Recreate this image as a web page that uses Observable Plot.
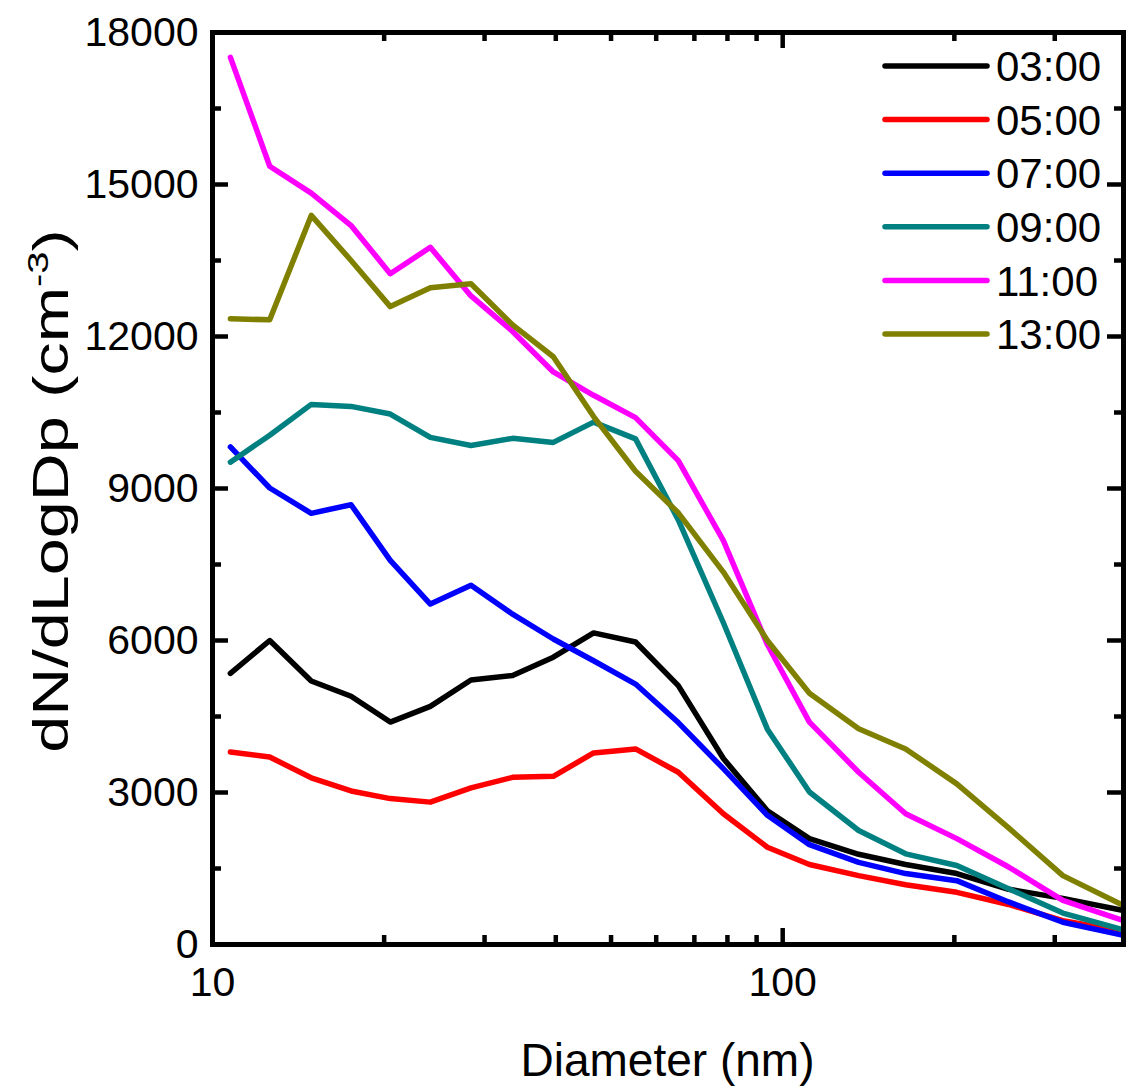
<!DOCTYPE html>
<html><head><meta charset="utf-8">
<script src="https://cdn.jsdelivr.net/npm/d3@7"></script>
<script src="https://cdn.jsdelivr.net/npm/@observablehq/plot@0.6"></script>
<style>body{margin:0;background:#fff} svg{display:block}</style>
</head><body><div id="chart"></div>
<script>
// Diameters (nm) of the size bins
const diameters = [10.75, 12.6, 14.9, 17.5, 20.5, 24.1, 28.4, 33.6, 39.6, 46.6, 55.2, 65.6, 78.7, 94.0, 111.4, 135.9, 164.3, 202, 249, 310, 396];
const seriesNames = ["03:00", "05:00", "07:00", "09:00", "11:00", "13:00"];
const seriesColors = ["#000000", "#ff0000", "#0000ff", "#008080", "#ff00ff", "#808000"];
const v0300 = [5350, 6000, 5200, 4900, 4390, 4700, 5220, 5310, 5670, 6150, 5970, 5110, 3670, 2640, 2090, 1780, 1580, 1400, 1090, 910, 670];
const v0500 = [3800, 3700, 3290, 3030, 2880, 2810, 3090, 3300, 3320, 3780, 3860, 3400, 2580, 1920, 1580, 1360, 1180, 1030, 790, 470, 260];
const v0700 = [9820, 9010, 8510, 8680, 7580, 6720, 7090, 6520, 6030, 5600, 5140, 4380, 3470, 2550, 1970, 1620, 1400, 1260, 840, 440, 180];
const v0900 = [9520, 10050, 10660, 10620, 10470, 10010, 9850, 9990, 9910, 10310, 9980, 8380, 6350, 4250, 3010, 2250, 1790, 1560, 1100, 620, 290];
const v1100 = [17510, 15360, 14830, 14190, 13240, 13760, 12800, 12100, 11300, 10840, 10400, 9550, 7970, 5920, 4390, 3400, 2580, 2090, 1530, 870, 470];
const v1300 = [12350, 12330, 14390, 13500, 12590, 12960, 13040, 12230, 11600, 10420, 9340, 8520, 7350, 6000, 4960, 4260, 3860, 3170, 2300, 1360, 770];
const xMajorTicks = [10, 100];
const xMinorTicks = [20, 30, 40, 50, 60, 70, 80, 90, 200, 300];
const yMajorTicks = [0, 3000, 6000, 9000, 12000, 15000, 18000];
const yMinorTicks = [1500, 4500, 7500, 10500, 13500, 16500];

const allValues = [v0300, v0500, v0700, v0900, v1100, v1300];
const rows = [];
seriesNames.forEach((s, i) => allValues[i].forEach((v, j) => rows.push({series: s, d: diameters[j], v})));

const W = 1126, H = 1092, mL = 212, mR = 3, mT = 32, mB = 148;
const pw = W - mL - mR, ph = H - mT - mB;
const font = '"Liberation Sans", Arial, Helvetica, sans-serif';
const tickW = 4.5, majLen = 16, minLen = 9;

const chart = Plot.plot({
  width: W, height: H,
  marginLeft: mL, marginRight: mR, marginTop: mT, marginBottom: mB,
  style: {fontFamily: font, background: "white", color: "black", overflow: "visible"},
  x: {type: "log", domain: [10, 396], label: null},
  y: {domain: [0, 18000], label: null},
  color: {domain: seriesNames, range: seriesColors},
  marks: [
    Plot.lineY(rows, {x: "d", y: "v", z: "series", stroke: "series", strokeWidth: 5.5}),
    // inward ticks: bottom
    Plot.tickX(xMajorTicks, {x: d => d, insetTop: ph - majLen, stroke: "black", strokeWidth: tickW}),
    Plot.tickX(xMinorTicks, {x: d => d, insetTop: ph - minLen, stroke: "black", strokeWidth: tickW}),
    // top
    Plot.tickX(xMajorTicks, {x: d => d, insetBottom: ph - majLen, stroke: "black", strokeWidth: tickW}),
    Plot.tickX(xMinorTicks, {x: d => d, insetBottom: ph - minLen, stroke: "black", strokeWidth: tickW}),
    // left
    Plot.tickY(yMajorTicks, {y: d => d, insetRight: pw - majLen, stroke: "black", strokeWidth: tickW}),
    Plot.tickY(yMinorTicks, {y: d => d, insetRight: pw - minLen, stroke: "black", strokeWidth: tickW}),
    // right
    Plot.tickY(yMajorTicks, {y: d => d, insetLeft: pw - majLen, stroke: "black", strokeWidth: tickW}),
    Plot.tickY(yMinorTicks, {y: d => d, insetLeft: pw - minLen, stroke: "black", strokeWidth: tickW}),
    Plot.frame({stroke: "black", strokeWidth: 5}),
    Plot.axisX(xMajorTicks, {anchor: "bottom", tickSize: 0, tickPadding: 22, fontSize: 41, label: null, tickFormat: d => String(d)}),
    Plot.axisY(yMajorTicks, {anchor: "left", tickSize: 0, tickPadding: 14, fontSize: 41, label: null, tickFormat: d => String(d)})
  ]
});

const svg = d3.select(chart);
// Axis titles
svg.append("text")
  .attr("x", (mL + W - mR) / 2).attr("y", 1076)
  .attr("text-anchor", "middle")
  .attr("font-family", font).attr("font-size", 46).attr("fill", "black")
  .text("Diameter (nm)");

const yt = svg.append("text")
  .attr("transform", `translate(68,${mT + ph / 2 + 3}) rotate(-90) scale(1.33,1)`)
  .attr("text-anchor", "middle")
  .attr("font-family", font).attr("font-size", 50).attr("fill", "black");
yt.append("tspan").text("dN/dLogDp (cm");
yt.append("tspan").attr("font-size", 30).attr("dy", -20).text("-3");
yt.append("tspan").attr("dy", 20).text(")");

// Legend
const lg = svg.append("g").attr("font-family", font).attr("font-size", 42).attr("text-anchor", "start");
seriesNames.forEach((s, i) => {
  const y = 66 + i * 53.6;
  lg.append("line").attr("x1", 885).attr("x2", 987).attr("y1", y).attr("y2", y)
    .attr("stroke", seriesColors[i]).attr("stroke-width", 5.5).attr("stroke-linecap", "round");
  lg.append("text").attr("x", 996).attr("y", y).attr("dy", "0.36em").attr("fill", "black").text(s);
});

document.getElementById("chart").appendChild(chart);
</script>
</body></html>
